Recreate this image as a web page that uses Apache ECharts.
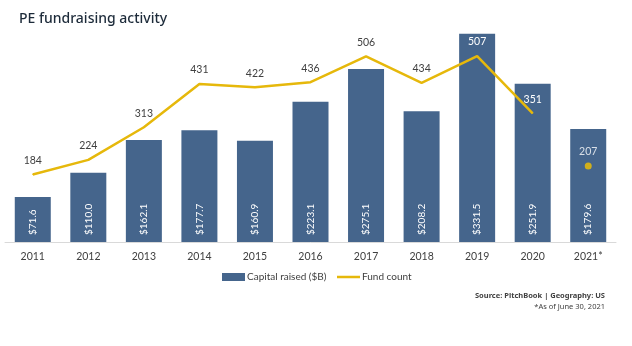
<!DOCTYPE html>
<html><head><meta charset="utf-8">
<script src="https://cdn.jsdelivr.net/npm/echarts@6/dist/echarts.min.js"></script>
<style>html,body{margin:0;padding:0;background:#fff}#c{width:632px;height:346px}</style>
</head><body><div id="c"></div>
<script>
var years = ['2011','2012','2013','2014','2015','2016','2017','2018','2019','2020','2021*'];
var capitalRaised = [71.6,110.0,162.1,177.7,160.9,223.1,275.1,208.2,331.5,251.9,179.6];
var fundCount = [184,224,313,431,422,436,506,434,507,351,null];
var fundCount2021 = [null,null,null,null,null,null,null,null,null,null,207];
var whiteLabelYears = ['2019','2020'];

var chart = echarts.init(document.getElementById('c'));
var FONT = 'Lato';
var lineData = fundCount.map(function(v,i){
  var white = whiteLabelYears.indexOf(years[i]) >= 0;
  return {value: v, label: {color: white ? '#ffffff' : '#404040'}};
});
chart.setOption({
  animation: false,
  textStyle: {fontFamily: FONT},
  title: [
    {text: 'PE fundraising activity', left: 14, top: 7,
     textStyle: {fontFamily: 'Noto Sans', fontSize: 14, fontWeight: 500, color: '#1d2b3a'}},
    {text: '{b|Source:} PitchBook | {b|Geography:} US', right: 22, top: 287,
     textStyle: {fontFamily: 'Noto Sans', fontSize: 7.5, color: '#404040',
       rich: {b: {fontFamily: 'Noto Sans', fontSize: 7.5, fontWeight: 'bold', color: '#404040'}}}},
    {text: '*As of June 30, 2021', right: 22, top: 298,
     textStyle: {fontFamily: 'Noto Sans', fontSize: 7.5, fontWeight: 'normal', color: '#404040'}}
  ],
  legend: [
    {top: 267, left: 217, itemWidth: 23, itemHeight: 8,
     textStyle: {fontFamily: FONT, fontSize: 10, color: '#404040', padding: [0,0,0,-3]},
     data: [{name: 'Capital raised ($B)', icon: 'rect'}]},
    {top: 267, left: 332, itemWidth: 23, itemHeight: 2.5,
     textStyle: {fontFamily: FONT, fontSize: 10, color: '#404040', padding: [0,0,0,-3]},
     data: [{name: 'Fund count', icon: 'rect', itemStyle: {color: '#e6b80b'}}]}
  ],
  grid: {left: 5, right: 16, top: 22, bottom: 104, containLabel: false},
  xAxis: {
    type: 'category', data: years,
    axisTick: {show: false},
    axisLine: {lineStyle: {color: '#d9d9d9', width: 1}},
    axisLabel: {color: '#404040', fontSize: 10.5, margin: 9, fontFamily: FONT}
  },
  yAxis: [
    {type: 'value', min: 0, max: 350, show: false, splitLine: {show: false}},
    {type: 'value', min: 0, max: 600, show: false, splitLine: {show: false}}
  ],
  series: [
    {name: 'Capital raised ($B)', type: 'bar', data: capitalRaised, barWidth: 36,
     itemStyle: {color: '#45658c'},
     label: {show: true, position: 'insideBottom', rotate: 90, align: 'left', verticalAlign: 'middle',
       distance: 7, color: '#ffffff', fontSize: 10, fontFamily: FONT,
       formatter: function(p){ return '$' + p.value.toFixed(1); }}},
    {name: 'Fund count', type: 'line', yAxisIndex: 1, data: lineData,
     symbol: 'circle', symbolSize: 1, showSymbol: true,
     lineStyle: {color: '#e6b80b', width: 2.5}, itemStyle: {color: '#e6b80b'},
     label: {show: true, position: 'top', distance: 8, fontSize: 10.5, fontFamily: FONT}},
    {name: 'Fund count 2021', type: 'scatter', yAxisIndex: 1, data: fundCount2021,
     symbolSize: 7, itemStyle: {color: '#f2c200'},
     label: {show: true, position: 'top', distance: 5, color: '#ffffff', fontSize: 10.5, fontFamily: FONT}}
  ]
});
</script></body></html>
